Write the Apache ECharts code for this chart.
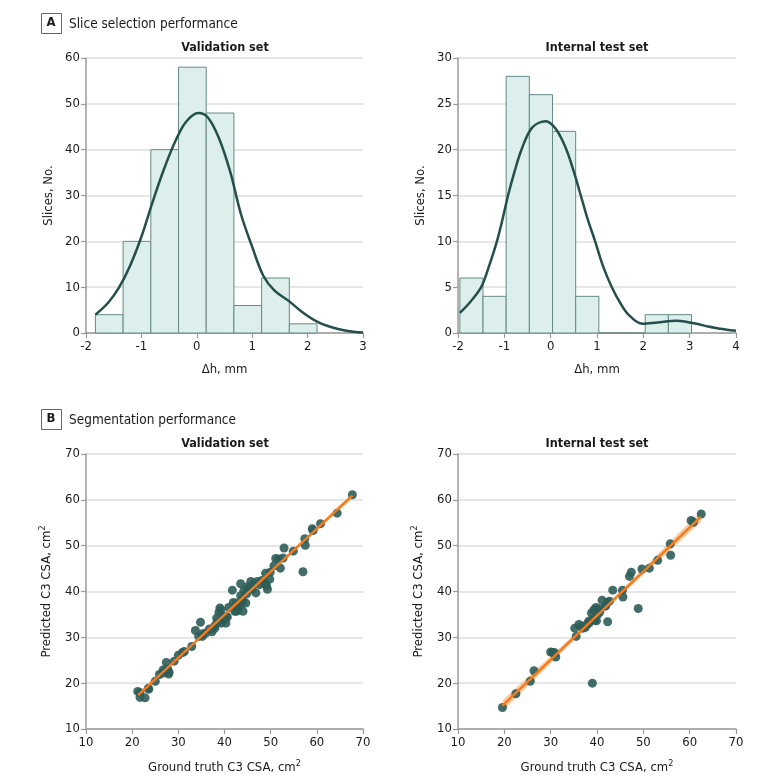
<!DOCTYPE html>
<html><head><meta charset="utf-8">
<script src="https://cdn.jsdelivr.net/npm/echarts@6/dist/echarts.min.js"></script>
<style>html,body{margin:0;padding:0;background:#fff}#c{width:780px;height:784px}</style>
</head><body><div id="c"></div>
<script>
// ---------- Panel A: histograms ----------
var valEdges = [-1.83, -1.33, -0.83, -0.33, 0.17, 0.67, 1.17, 1.67, 2.17];
var valCounts = [4, 20, 40, 58, 48, 6, 12, 2];
var intEdges = [-1.96, -1.46, -0.96, -0.46, 0.04, 0.54, 1.04, 1.54, 2.04, 2.54, 3.04];
var intCounts = [6, 4, 28, 26, 22, 4, 0, 0, 2, 2];

// density curves (count scale)
var valCurveX = [-1.83, -1.6, -1.4, -1.2, -1.0, -0.8, -0.6, -0.4, -0.2, 0.03, 0.2, 0.4, 0.6, 0.8, 1.0, 1.2, 1.4, 1.67, 1.9, 2.17, 2.45, 2.7, 3.0];
var valCurveY = [4.0, 6.6, 10.0, 14.8, 21.0, 28.5, 35.5, 41.5, 46.0, 48.0, 47.0, 42.5, 35.3, 25.8, 18.8, 12.5, 9.3, 6.9, 4.6, 2.5, 1.2, 0.5, 0.1];
var intCurveX = [-1.96, -1.75, -1.5, -1.33, -1.16, -1.03, -0.92, -0.78, -0.63, -0.4, -0.11, 0.12, 0.34, 0.5, 0.65, 0.8, 0.96, 1.13, 1.32, 1.5, 1.68, 1.98, 2.3, 2.72, 3.0, 3.2, 3.4, 3.62, 3.8, 4.0];
var intCurveY = [2.2, 3.3, 5, 7.3, 10, 12.6, 15, 17.6, 20, 22.4, 23.1, 22.2, 20, 17.6, 15, 12.4, 10, 7.3, 5, 3.3, 2.0, 1.0, 1.15, 1.35, 1.15, 0.95, 0.7, 0.5, 0.35, 0.25];

// ---------- Panel B: scatter ----------
var valGT = [21.2,21.7,22.8,23.6,23.5,21.7,25.0,25.9,26.6,27.4,
  27.7,28.0,26.7,27.9,29.1,30.0,30.9,31.3,32.9,33.7,
  34.4,34.8,35.2,35.9,35.2,36.7,37.3,37.9,37.9,38.3,
  38.4,38.8,39.2,39.0,39.3,39.6,39.8,40.3,40.4,40.6,
  40.9,41.7,41.9,42.2,42.6,42.6,42.9,43.2,43.5,43.5,
  43.7,43.9,44.0,44.2,44.6,44.8,45.1,45.3,45.7,45.8,
  46.0,46.4,46.8,47.1,47.6,48.1,48.7,48.9,49.1,49.3,
  49.8,49.9,50.7,51.1,51.8,52.1,52.7,52.9,54.9,57.0,
  57.4,57.5,59.0,59.2,60.8,64.4,67.7];
var valPred = [18.2,16.9,16.8,18.7,18.9,17.9,20.4,21.9,22.2,24.5,
  23.1,22.4,22.9,22.0,24.8,26.1,26.7,26.9,28.0,31.5,
  30.2,33.3,30.2,30.9,30.8,31.8,31.2,32.0,32.5,34.2,
  33.3,35.5,36.0,36.4,33.1,34.6,33.9,33.1,34.6,34.4,
  36.5,40.3,37.6,35.7,37.5,35.7,36.0,36.8,41.7,39.1,
  37.6,38.2,35.7,40.2,37.5,39.5,41.1,40.5,42.2,41.1,
  40.5,41.7,39.7,42.2,41.5,42.4,41.9,44.0,41.3,40.5,
  42.7,44.2,45.6,47.2,47.1,45.1,47.3,49.5,48.8,44.3,
  51.5,50.1,53.7,53.3,54.8,57.1,61.1];
var intGT = [19.6,22.5,25.6,26.4,30.4,30.8,31.1,30.0,35.2,35.5,
  36.1,36.7,37.0,37.5,37.8,38.2,38.3,38.8,39.0,39.2,
  39.3,39.5,39.8,39.9,40.1,40.3,40.6,41.1,41.7,41.9,
  42.2,42.3,42.7,43.4,45.5,45.6,47.0,47.4,48.9,49.7,
  51.3,53.1,55.8,55.9,60.3,60.8,62.5];
var intPred = [14.7,17.7,20.4,22.7,26.7,26.7,25.7,26.8,32.0,30.2,
  32.8,32.3,32.0,32.2,32.8,33.5,33.1,35.3,20.0,34.0,
  36.0,33.7,36.5,33.6,34.9,36.2,35.5,38.1,36.8,36.9,
  37.6,33.4,37.9,40.3,40.3,38.8,43.3,44.2,36.3,44.9,
  45.1,46.8,50.4,47.9,55.5,55.1,56.9];

// regression lines and confidence bands
var valFitX = [21.3, 67.7];
var valFitY = [17.4, 60.9];
var valBandX = [21.3, 44.5, 67.7];
var valBandLo = [16.9, 39.0, 60.3];
var valBandHi = [17.9, 39.4, 61.5];
var intFitX = [19.6, 62.4];
var intFitY = [15.1, 56.3];
var intBandX = [19.6, 41.0, 62.4];
var intBandLo = [13.9, 35.3, 55.1];
var intBandHi = [16.3, 36.1, 57.5];

var F = '"DejaVu Sans Condensed","DejaVu Sans",sans-serif';
var TXT = '#1a1a1a';
var AX = '#9a9a9a';

function zip(a, b) { var r = []; for (var i = 0; i < a.length; i++) r.push([a[i], b[i]]); return r; }
function bins(edges, counts) { var r = []; for (var i = 0; i < counts.length; i++) r.push([edges[i], edges[i + 1], counts[i]]); return r; }

var nameRich = { sup: { fontSize: 9, fontFamily: F, color: TXT, padding: [0, 0, 8, 0] } };

function xAx(gi, min, max, interval, name) {
  return {
    type: 'value', gridIndex: gi, min: min, max: max, interval: interval,
    name: name, nameLocation: 'middle', nameGap: 30,
    nameTextStyle: { fontFamily: F, fontSize: 13, color: TXT, rich: nameRich },
    axisLine: { show: true, onZero: false, lineStyle: { color: AX, width: 1.5 } },
    axisTick: { show: true, length: 5, lineStyle: { color: AX, width: 1.2 } },
    axisLabel: { fontFamily: F, fontSize: 13, color: TXT, margin: 7 },
    splitLine: { show: false }
  };
}
function yAx(gi, min, max, interval, name) {
  return {
    type: 'value', gridIndex: gi, min: min, max: max, interval: interval,
    name: name, nameLocation: 'middle', nameGap: 31, nameRotate: 90,
    nameTextStyle: { fontFamily: F, fontSize: 13, color: TXT, rich: nameRich },
    axisLine: { show: true, onZero: false, lineStyle: { color: AX, width: 1.5 } },
    axisTick: { show: true, length: 5, lineStyle: { color: AX, width: 1.2 } },
    axisLabel: { fontFamily: F, fontSize: 13, color: TXT, margin: 6 },
    splitLine: { show: true, lineStyle: { color: '#dedede', width: 1.5 } }
  };
}

function histSeries(gi, edges, counts) {
  return {
    type: 'custom', xAxisIndex: gi, yAxisIndex: gi, silent: true,
    data: bins(edges, counts), encode: { x: [0, 1], y: 2 },
    renderItem: function (p, api) {
      var a = api.coord([api.value(0), api.value(2)]);
      var b = api.coord([api.value(1), 0]);
      return { type: 'rect', shape: { x: a[0], y: a[1], width: b[0] - a[0], height: b[1] - a[1] },
        style: { fill: '#dcefed', stroke: '#668a86', lineWidth: 1 } };
    }
  };
}
function curveSeries(gi, xs, ys) {
  return { type: 'line', xAxisIndex: gi, yAxisIndex: gi, data: zip(xs, ys), smooth: 0.35,
    showSymbol: false, silent: true, lineStyle: { color: '#244f4b', width: 2.5 } };
}
function bandSeries(gi, bx, lo, hi) {
  return {
    type: 'custom', xAxisIndex: gi, yAxisIndex: gi, silent: true,
    data: [[bx[0], lo[0]]], encode: { x: 0, y: 1 },
    renderItem: function (p, api) {
      var pts = [], i;
      for (i = 0; i < bx.length; i++) pts.push(api.coord([bx[i], hi[i]]));
      for (i = bx.length - 1; i >= 0; i--) pts.push(api.coord([bx[i], lo[i]]));
      return { type: 'polygon', shape: { points: pts }, style: { fill: 'rgba(248,168,95,0.6)' } };
    }
  };
}
function scatterSeries(gi, xs, ys) {
  return { type: 'scatter', xAxisIndex: gi, yAxisIndex: gi, data: zip(xs, ys), symbolSize: 9, silent: true,
    itemStyle: { color: '#2e5d58', opacity: 0.9 } };
}
function fitSeries(gi, xs, ys) {
  return { type: 'line', xAxisIndex: gi, yAxisIndex: gi, data: zip(xs, ys), showSymbol: false, silent: true,
    lineStyle: { color: '#f47b20', width: 2.5 } };
}

function panelLabel(letter, text, y) {
  return [
    { type: 'rect', left: 41, top: y, shape: { x: 0, y: 0, width: 20, height: 20 },
      style: { fill: '#fff', stroke: '#666', lineWidth: 1 } },
    { type: 'text', x: 51, y: y + 10, style: { text: letter, fontFamily: F, fontWeight: 'bold', fontSize: 13,
      fill: TXT, align: 'center', verticalAlign: 'middle' } },
    { type: 'text', x: 69, y: y + 11, style: { text: text, fontFamily: F, fontSize: 13.5,
      fill: TXT, align: 'left', verticalAlign: 'middle' } }
  ];
}
function subTitle(text, cx, cy) {
  return { type: 'text', x: cx, y: cy, style: { text: text, fontFamily: F, fontWeight: 'bold', fontSize: 12.5,
    fill: TXT, align: 'center', verticalAlign: 'middle' } };
}

var chart = echarts.init(document.getElementById('c'), null, { renderer: 'canvas' });
var cm2 = 'cm{sup|2}';
chart.setOption({
  animation: false,
  backgroundColor: '#fff',
  grid: [
    { left: 86, top: 58, width: 277, height: 275 },
    { left: 458, top: 58, width: 278, height: 275 },
    { left: 86, top: 454, width: 277, height: 275 },
    { left: 458, top: 454, width: 278, height: 275 }
  ],
  xAxis: [
    xAx(0, -2, 3, 1, 'Δh, mm'),
    xAx(1, -2, 4, 1, 'Δh, mm'),
    xAx(2, 10, 70, 10, 'Ground truth C3 CSA, ' + cm2),
    xAx(3, 10, 70, 10, 'Ground truth C3 CSA, ' + cm2)
  ],
  yAxis: [
    yAx(0, 0, 60, 10, 'Slices, No.'),
    yAx(1, 0, 30, 5, 'Slices, No.'),
    yAx(2, 10, 70, 10, 'Predicted C3 CSA, ' + cm2),
    yAx(3, 10, 70, 10, 'Predicted C3 CSA, ' + cm2)
  ],
  graphic: [].concat(
    panelLabel('A', 'Slice selection performance', 13),
    panelLabel('B', 'Segmentation performance', 409),
    [subTitle('Validation set', 225, 48), subTitle('Internal test set', 597, 48),
     subTitle('Validation set', 225, 444), subTitle('Internal test set', 597, 444)]
  ),
  series: [
    histSeries(0, valEdges, valCounts),
    curveSeries(0, valCurveX, valCurveY),
    histSeries(1, intEdges, intCounts),
    curveSeries(1, intCurveX, intCurveY),
    bandSeries(2, valBandX, valBandLo, valBandHi),
    scatterSeries(2, valGT, valPred),
    fitSeries(2, valFitX, valFitY),
    bandSeries(3, intBandX, intBandLo, intBandHi),
    scatterSeries(3, intGT, intPred),
    fitSeries(3, intFitX, intFitY)
  ]
});
</script></body></html>
